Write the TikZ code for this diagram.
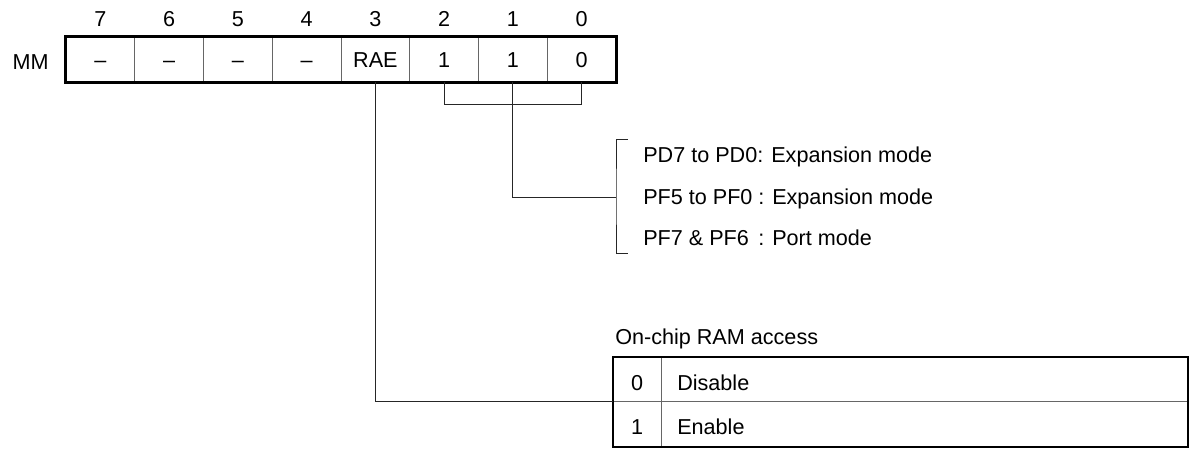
\documentclass[tikz,border=0pt]{standalone}
\usepackage{fontspec}
\setmainfont{Liberation Sans}
\begin{document}
\begin{tikzpicture}[x=0.75pt,y=-0.75pt,
  lbl/.style={font=\fontsize{16.2}{19}\selectfont, inner sep=0pt},
  hdr/.style={lbl, text height=11.6pt, text depth=0pt},
  cell/.style={hdr, draw=black!60, line width=0.6pt, minimum width=51.5625pt, minimum height=33.75pt},
  tcell/.style={draw=black!60, line width=0.6pt, inner sep=0pt, anchor=north west},
  outer/.style={line width=1.9pt},
  wire/.style={line width=0.75pt, draw=black!85}]
\useasboundingbox (0,0) rectangle (1191,449);
% bit numbers
\foreach \i/\t in {0/7,1/6,2/5,3/4,4/3,5/2,6/1,7/0}
  \node[hdr] (h\t) at ({66+68.75*(\i+0.5)},19) {\t};
% register cells
\foreach \i/\t/\n in {0/–/7,1/–/6,2/–/5,3/–/4,4/RAE/3,5/1/2,6/1/1,7/0/0}
  \node[cell] (c\n) at ({66+68.75*(\i+0.5)},59.5) {\t};
\draw[outer] (c7.north west) rectangle (c0.south east);
\node[hdr, anchor=east] (mm) at (49,62) {MM};
% bits 2..0 bracket
\draw[wire] (c2.south) -- ++(0,22) coordinate (b2) -| (c0.south);
\path (c1.south) ++(0,22) coordinate (b1);
\coordinate (bm) at (616,197);
\coordinate (bt) at (628,140);
\coordinate (bb) at (628,253);
\draw[wire] (c1.south) -- (b1) |- (bm);
\draw[wire] (bt) -| (bm) |- (bb);
% mode texts
\node[lbl, anchor=base west] (l1) at (643,162.5) {PD7 to PD0: Expansion mode};
\node[lbl, anchor=base west] (l2) at (643,204.5) {PF5 to PF0};
\node[lbl, anchor=base west] (l2d) at (758,204.5) {: Expansion mode};
\node[lbl, anchor=base west] (l3) at (643,245.5) {PF7 \& PF6};
\node[lbl, anchor=base west] (l3d) at (758,245.5) {: Port mode};
% RAM access table
\node[lbl, anchor=base west] (tt) at (615,344) {On-chip RAM access};
\node[tcell, minimum width=36pt, minimum height=33pt] (k0) at (613,357) {};
\node[tcell, minimum width=394.5pt, minimum height=33pt] (d0) at (661,357) {};
\node[tcell, minimum width=36pt, minimum height=33.75pt] (k1) at (613,401) {};
\node[tcell, minimum width=394.5pt, minimum height=33.75pt] (d1) at (661,401) {};
\draw[outer] (k0.north west) rectangle (d1.south east);
\node[lbl, anchor=base] (t0) at (637,390) {0};
\node[lbl, anchor=base west] (t0d) at (677,390) {Disable};
\node[lbl, anchor=base] (t1) at (637,434) {1};
\node[lbl, anchor=base west] (t1d) at (677,434) {Enable};
% RAE connector
\draw[wire] (c3.south) |- (k1.north west);
\end{tikzpicture}
\end{document}
